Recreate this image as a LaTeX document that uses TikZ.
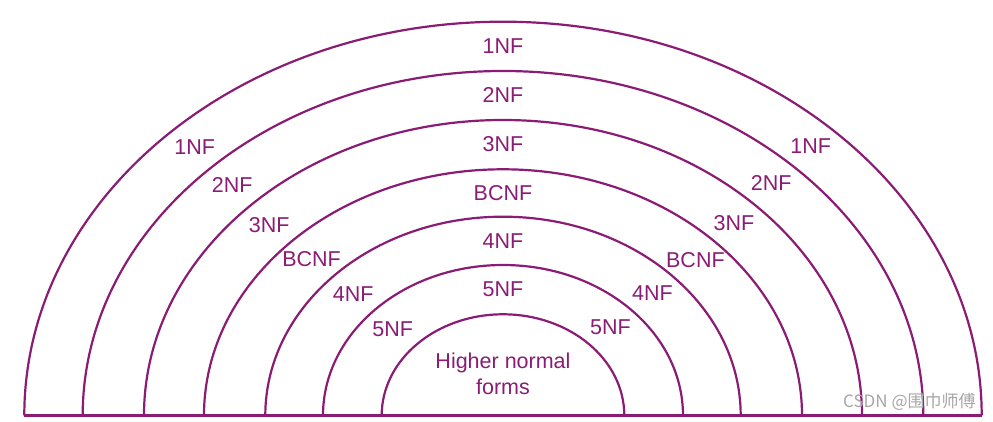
\documentclass[tikz,border=0pt]{standalone}
\usepackage{fontspec}
\usepackage{xcolor}
\usepackage{tikz}
\setmainfont{Liberation Sans}
\newfontfamily\cjkfont{Noto Sans CJK SC}
\definecolor{plumMain}{HTML}{8A1C74}
\definecolor{grayMark}{HTML}{A6A6A6}

\begin{document}
\begin{tikzpicture}[x=1pt,y=1pt]

        \tikzset{
            band/.style={
                draw=plumMain,
                line width=2.2pt
            },
            bandlabel/.style={
                text=plumMain,
                inner sep=0pt,
                font=\fontsize{21.5}{26}\selectfont
            }
        }

        \useasboundingbox (-503,-6.5) rectangle (490,415.5);

        % half ellipses, outer to inner: x radius / y radius
        \foreach \a/\b in {478.7/393.8, 420.3/344.5, 359/295.5, 299/246.2,
                           237.7/198.8, 180/150.5, 121.3/101.2}{
            \draw[band] (-\a,0) arc[start angle=180, end angle=0, x radius=\a, y radius=\b];
        }
        \draw[band] (-478.7,0) -- (478.7,0);

        % labels sit on the middle line of each band (left / right angle)
        \foreach \a/\b/\l/\r/\txt/\nm in {449.5/369.2/133.3/46.8/1NF/nfOne,
                                          389.7/320/134/46.5/2NF/nfTwo,
                                          329/270.9/135.3/45.4/3NF/nfThree,
                                          268.4/222.5/135.5/44.2/BCNF/bcnf,
                                          208.9/174.7/135.8/44.3/4NF/nfFour,
                                          150.7/125.9/137/44.5/5NF/nfFive}{
            \node[bandlabel] (\nm-top) at (0,\b) {\txt};
            \node[bandlabel] (\nm-left) at ({\a*cos(\l)},{\b*sin(\l)}) {\txt};
            \node[bandlabel] (\nm-right) at ({\a*cos(\r)},{\b*sin(\r)}) {\txt};
        }

        \node[bandlabel, align=center] (higher) at (0,41.5) {Higher normal\\forms};

        \node[text=grayMark, inner sep=0pt, font=\cjkfont\fontsize{17}{19}\selectfont]
            (mark) at (406.4,13.5) {CSDN @围巾师傅};

\end{tikzpicture}
\end{document}
